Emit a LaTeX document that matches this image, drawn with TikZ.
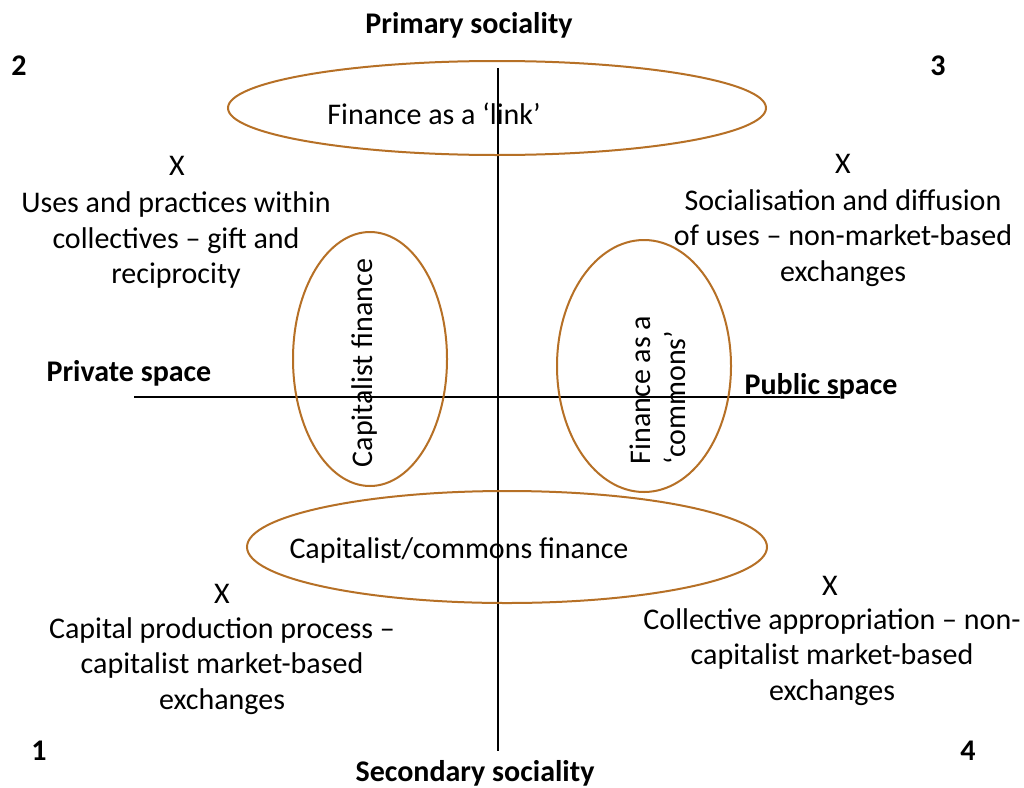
\documentclass[tikz,border=0pt]{standalone}
\usepackage{fontspec}
\setmainfont{Carlito}
\definecolor{ringbrown}{RGB}{182,112,38}
\begin{document}
\begin{tikzpicture}[x=1pt,y=-1pt,
  txt/.style={font=\fontsize{30}{35.5}\selectfont, align=center, inner sep=0pt},
  bold/.style={font=\fontsize{30}{35.5}\selectfont\bfseries, inner sep=0pt},
  ring/.style={draw=ringbrown, line width=2pt},
  axis/.style={draw=black, line width=1.2pt}]
\fill[white] (0,0) rectangle (1024,787);
\useasboundingbox (0,0) rectangle (1024,787);
% axes
\coordinate (vtop) at (498,68);
\coordinate (vbot) at (498,751);
\coordinate (hleft) at (134,397);
\coordinate (hright) at (840,397);
\draw[axis] (vtop) -- (vbot);
\draw[axis] (hleft) -- (hright);
% ellipses
\coordinate (etop) at (497,108);
\coordinate (eleft) at (370,359);
\coordinate (eright) at (644,366);
\coordinate (ebot) at (507,547);
\draw[ring] (etop) ellipse [x radius=269, y radius=47];
\draw[ring] (eleft) ellipse [x radius=77, y radius=127];
\draw[ring] (eright) ellipse [x radius=87, y radius=126];
\draw[ring] (ebot) ellipse [x radius=260, y radius=56];
% axis labels
\node[bold] (prim) at (469,25) {Primary sociality};
\node[bold] (sec) at (475,773) {Secondary sociality};
\node[bold] (priv) at (129,373) {Private space};
\node[bold] (pub) at (821,386) {Public space};
\node[bold] (n2) at (19,66) {2};
\node[bold] (n3) at (938,66) {3};
\node[bold] (n1) at (39,751) {1};
\node[bold] (n4) at (968,751) {4};
% ellipse labels
\node[txt] (link) at (434,114) {Finance as a ‘link’};
\node[txt, rotate=90] (capfin) at (364,363) {Capitalist finance};
\node[txt, rotate=90, align=left] (commons) at (658,390) {Finance as a\\‘commons’};
\node[txt] (capcom) at (459,550) {Capitalist/commons finance};
% quadrant texts
\node[txt] (x2) at (177,166) {X};
\node[txt] (q2) at (176,240) {Uses and practices within\\collectives – gift and\\reciprocity};
\node[txt] (x3) at (843,164) {X};
\node[txt] (q3) at (843,238) {Socialisation and diffusion\\of uses – non-market-based\\exchanges};
\node[txt] (x1) at (222,594) {X};
\node[txt] (q1) at (222,666) {Capital production process –\\capitalist market-based\\exchanges};
\node[txt] (x4) at (830,586) {X};
\node[txt] (q4) at (832,657) {Collective appropriation – non-\\capitalist market-based\\exchanges};
\end{tikzpicture}
\end{document}
